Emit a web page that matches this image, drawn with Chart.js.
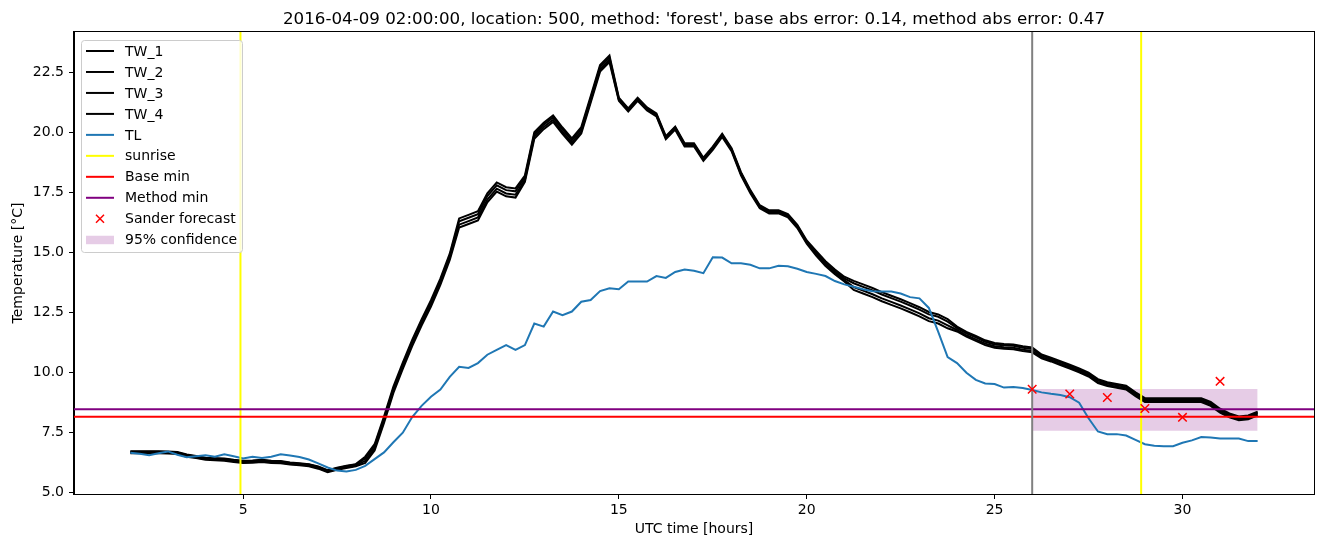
<!DOCTYPE html>
<html>
<head>
<meta charset="utf-8">
<script src="https://cdn.jsdelivr.net/npm/chart.js@4.4.0/dist/chart.umd.min.js"></script>
<style>
  html, body { margin: 0; padding: 0; background: #fff; }
  canvas { display: block; }
</style>
</head>
<body>
<canvas id="chart" width="1324" height="547"></canvas>
<script>
const TITLE = "2016-04-09 02:00:00, location: 500, method: 'forest', base abs error: 0.14, method abs error: 0.47";
const FONT = '"DejaVu Sans", sans-serif';

// Time grid: every 15 minutes from 2 h to 32 h
const hours = [];
for (let h = 2; h <= 32.0001; h += 0.25) hours.push(Math.round(h * 100) / 100);

// Wall temperatures (4 sensors)
const tw1 = [6.73,6.73,6.73,6.73,6.72,6.70,6.59,6.53,6.46,6.44,6.42,6.37,6.33,6.34,6.37,6.33,6.32,6.26,6.23,6.19,6.09,5.94,6.04,6.12,6.19,
  6.50,7.02,8.17,9.42,10.42,11.37,12.22,13.02,13.92,14.96,
  16.43,16.58,16.73,17.48,17.93,17.73,17.68,
  18.22,20.02,20.42,20.72,20.22,19.77,20.24,21.52,22.82,23.22,
  21.46,21.02,21.46,21.06,20.81,19.86,20.26,19.56,19.56,18.96,19.42,19.96,19.36,18.36,17.61,16.98,16.77,16.77,16.61,16.16,15.51,
  15.08,14.65,14.30,14.00,
  13.83,13.68,13.53,13.36,13.21,13.06,12.90,12.73,12.53,12.43,12.23,
  11.92,11.70,11.53,11.35,11.24,11.20,11.18,11.10,11.05,
  10.76,10.63,10.48,10.33,10.18,10.00,9.73,9.60,9.53,9.46,9.18,8.94,8.94,8.94,8.94,8.94,8.94,8.94,8.78,8.50,8.30,8.18,8.22,8.38];
const tw2 = [6.71,6.71,6.71,6.71,6.70,6.68,6.57,6.51,6.44,6.42,6.40,6.35,6.31,6.32,6.35,6.31,6.30,6.24,6.21,6.17,6.07,5.92,6.02,6.10,6.17,
  6.42,6.94,8.09,9.34,10.34,11.29,12.14,12.94,13.84,14.88,
  16.31,16.46,16.61,17.36,17.81,17.61,17.56,
  18.14,19.94,20.34,20.64,20.14,19.69,20.16,21.44,22.74,23.14,
  21.42,20.98,21.42,21.02,20.77,19.82,20.22,19.52,19.52,18.92,19.38,19.92,19.32,18.32,17.57,16.94,16.73,16.73,16.57,16.12,15.47,
  15.01,14.58,14.23,13.93,
  13.73,13.58,13.43,13.26,13.11,12.96,12.80,12.63,12.43,12.33,12.13,
  11.86,11.64,11.47,11.29,11.18,11.14,11.12,11.04,10.99,
  10.71,10.58,10.43,10.28,10.13,9.95,9.68,9.55,9.48,9.41,9.13,8.89,8.89,8.89,8.89,8.89,8.89,8.89,8.73,8.45,8.25,8.13,8.17,8.33];
const tw3 = [6.67,6.67,6.67,6.67,6.66,6.64,6.53,6.47,6.40,6.38,6.36,6.31,6.27,6.28,6.31,6.27,6.26,6.20,6.17,6.13,6.03,5.88,5.98,6.06,6.13,
  6.33,6.85,8.00,9.25,10.25,11.20,12.05,12.85,13.75,14.79,
  16.17,16.32,16.47,17.22,17.67,17.47,17.42,
  18.04,19.84,20.24,20.54,20.04,19.59,20.06,21.34,22.64,23.04,
  21.38,20.94,21.38,20.98,20.73,19.78,20.18,19.48,19.48,18.88,19.34,19.88,19.28,18.28,17.53,16.90,16.69,16.69,16.53,16.08,15.43,
  14.94,14.51,14.16,13.86,
  13.57,13.42,13.27,13.10,12.95,12.80,12.64,12.47,12.27,12.17,11.97,
  11.78,11.56,11.39,11.21,11.10,11.06,11.04,10.96,10.91,
  10.65,10.52,10.37,10.22,10.07,9.89,9.62,9.49,9.42,9.35,9.07,8.83,8.83,8.83,8.83,8.83,8.83,8.83,8.67,8.39,8.19,8.07,8.11,8.27];
const tw4 = [6.64,6.64,6.64,6.64,6.63,6.61,6.50,6.44,6.37,6.35,6.33,6.28,6.24,6.25,6.28,6.24,6.23,6.17,6.14,6.10,6.00,5.85,5.95,6.03,6.10,
  6.24,6.76,7.91,9.16,10.16,11.11,11.96,12.76,13.66,14.70,
  16.05,16.20,16.35,17.10,17.55,17.35,17.30,
  17.95,19.75,20.15,20.45,19.95,19.50,19.97,21.25,22.55,22.95,
  21.33,20.89,21.33,20.93,20.68,19.73,20.13,19.43,19.43,18.83,19.29,19.83,19.23,18.23,17.48,16.85,16.64,16.64,16.48,16.03,15.38,
  14.88,14.45,14.10,13.80,
  13.45,13.30,13.15,12.98,12.83,12.68,12.52,12.35,12.15,12.05,11.85,
  11.72,11.50,11.33,11.15,11.04,11.00,10.98,10.90,10.85,
  10.60,10.47,10.32,10.17,10.02,9.84,9.57,9.44,9.37,9.30,9.02,8.78,8.78,8.78,8.78,8.78,8.78,8.78,8.62,8.34,8.14,8.02,8.06,8.22];

// Air temperature
const tl = [6.66,6.62,6.56,6.64,6.72,6.58,6.48,6.52,6.56,6.50,6.60,6.52,6.43,6.50,6.45,6.50,6.60,6.55,6.49,6.38,6.22,6.05,5.92,5.88,
  5.95,6.12,6.40,6.68,7.10,7.50,8.15,8.62,9.00,9.30,9.83,10.25,10.20,10.40,10.75,10.95,11.15,10.95,11.15,12.05,11.92,12.55,12.40,12.55,
  12.96,13.03,13.40,13.52,13.48,13.80,13.80,13.80,14.03,13.95,14.20,14.30,14.25,14.15,14.81,14.80,14.56,14.56,14.50,14.35,14.35,14.46,14.44,14.33,
  14.20,14.12,14.03,13.82,13.68,13.58,13.48,13.40,13.38,13.38,13.30,13.15,13.10,12.70,11.70,10.65,10.40,10.00,9.70,9.55,9.53,9.38,9.40,9.36,
  9.28,9.18,9.12,9.07,8.98,8.75,8.10,7.55,7.44,7.44,7.38,7.20,7.02,6.96,6.94,6.94,7.08,7.18,7.32,7.30,7.26,7.26,7.26,7.15,7.15];

const sunrise = [4.93, 28.9];
const nowHour = 26;
const baseMin = 8.16;
const methodMin = 8.48;
const forecastHours = [26, 27, 28, 29, 30, 31];
const forecastTemps = [9.31, 9.11, 8.97, 8.51, 8.14, 9.64];
const confHours = [26, 32];
const confLow = 7.58;
const confHigh = 9.32;

const xTicks = [5, 10, 15, 20, 25, 30];
const yTicks = [5.0, 7.5, 10.0, 12.5, 15.0, 17.5, 20.0, 22.5];
const X_MIN = 0.5, X_MAX = 33.5, Y_MIN = 4.945, Y_MAX = 24.2;

function line(label, xs, ys, color, order) {
    return {
        label: label,
        data: xs.map((x, i) => ({ x: x, y: ys[i] })),
        borderColor: color,
        borderWidth: 2,
        pointRadius: 0,
        tension: 0,
        fill: false,
        order: order
    };
}

const datasets = [
    // 0, 1: confidence band
    Object.assign(line('conf_low', confHours, confHours.map(() => confLow), 'rgba(0,0,0,0)', 30), { borderWidth: 0 }),
    Object.assign(line('95% confidence', confHours, confHours.map(() => confHigh), 'rgba(0,0,0,0)', 29),
        { borderWidth: 0, fill: 0, backgroundColor: 'rgba(128,0,128,0.2)' }),
    line('TW_1', hours, tw1, '#000000', 28),
    line('TW_2', hours, tw2, '#000000', 27),
    line('TW_3', hours, tw3, '#000000', 26),
    line('TW_4', hours, tw4, '#000000', 25),
    line('TL', hours, tl, '#1f77b4', 24),
    line('sunrise', [sunrise[0], sunrise[0]], [Y_MIN, Y_MAX], '#ffff00', 23),
    line('sunrise2', [sunrise[1], sunrise[1]], [Y_MIN, Y_MAX], '#ffff00', 22),
    line('Base min', [X_MIN, X_MAX], [baseMin, baseMin], '#ff0000', 21),
    line('Method min', [X_MIN, X_MAX], [methodMin, methodMin], '#800080', 20),
    line('now', [nowHour, nowHour], [Y_MIN, Y_MAX], '#808080', 19),
    Object.assign(line('Sander forecast', forecastHours, forecastTemps, '#ff0000', 18), {
        showLine: false, pointRadius: 6, pointStyle: 'crossRot', pointBorderWidth: 1.5,
        pointBorderColor: '#ff0000', pointBackgroundColor: '#ff0000'
    })
];

// Legend entries drawn in a matplotlib-like box
const legendItems = [
    { label: 'TW_1', kind: 'line', color: '#000000' },
    { label: 'TW_2', kind: 'line', color: '#000000' },
    { label: 'TW_3', kind: 'line', color: '#000000' },
    { label: 'TW_4', kind: 'line', color: '#000000' },
    { label: 'TL', kind: 'line', color: '#1f77b4' },
    { label: 'sunrise', kind: 'line', color: '#ffff00' },
    { label: 'Base min', kind: 'line', color: '#ff0000' },
    { label: 'Method min', kind: 'line', color: '#800080' },
    { label: 'Sander forecast', kind: 'marker', color: '#ff0000' },
    { label: '95% confidence', kind: 'patch', color: 'rgba(128,0,128,0.2)' }
];

const framePlugin = {
    id: 'frame',
    afterDatasetsDraw(chart) {
        const ctx = chart.ctx;
        const a = chart.chartArea;
        ctx.save();
        // legend box
        const bx = 81.5, by = 40.5, bw = 161, bh = 212;
        ctx.beginPath();
        ctx.roundRect(bx, by, bw, bh, 3);
        ctx.fillStyle = 'rgba(255,255,255,0.8)';
        ctx.fill();
        ctx.strokeStyle = '#cccccc';
        ctx.lineWidth = 1;
        ctx.stroke();
        ctx.font = '14px ' + FONT;
        ctx.textBaseline = 'middle';
        ctx.textAlign = 'left';
        legendItems.forEach((it, i) => {
            const y = 51 + i * 20.97;
            if (it.kind === 'line') {
                ctx.strokeStyle = it.color;
                ctx.lineWidth = 2;
                ctx.beginPath();
                ctx.moveTo(86, y);
                ctx.lineTo(114, y);
                ctx.stroke();
            } else if (it.kind === 'marker') {
                ctx.strokeStyle = it.color;
                ctx.lineWidth = 1.5;
                ctx.beginPath();
                ctx.moveTo(96, y - 4); ctx.lineTo(104, y + 4);
                ctx.moveTo(96, y + 4); ctx.lineTo(104, y - 4);
                ctx.stroke();
            } else {
                ctx.fillStyle = it.color;
                ctx.fillRect(86, y - 4, 28, 8.5);
            }
            ctx.fillStyle = '#000';
            ctx.fillText(it.label, 125, y + 1);
        });
        ctx.restore();
    },
    afterDraw(chart) {
        const ctx = chart.ctx;
        const a = chart.chartArea;
        ctx.save();
        ctx.strokeStyle = '#000';
        ctx.lineWidth = 1;
        ctx.strokeRect(Math.round(a.left) - 0.5, Math.round(a.top) - 0.5,
            Math.round(a.right - a.left) + 1, Math.round(a.bottom - a.top) + 1);
        ctx.fillStyle = '#000';
        ctx.font = '16.7px ' + FONT;
        ctx.textAlign = 'center';
        ctx.textBaseline = 'alphabetic';
        ctx.fillText(TITLE, (a.left + a.right) / 2, 24);
        ctx.restore();
    }
};

new Chart(document.getElementById('chart'), {
    type: 'line',
    data: { datasets: datasets },
    plugins: [framePlugin],
    options: {
        responsive: false,
        devicePixelRatio: 1,
        animation: false,
        events: [],
        layout: { padding: { left: 0, right: 10, top: 32, bottom: 0 } },
        plugins: {
            legend: { display: false },
            tooltip: { enabled: false },
            title: { display: false }
        },
        scales: {
            x: {
                type: 'linear',
                min: X_MIN,
                max: X_MAX,
                afterBuildTicks: s => { s.ticks = xTicks.map(v => ({ value: v })); },
                afterFit: s => { s.height = 53; },
                grid: { drawOnChartArea: false, drawTicks: true, tickLength: 5, tickColor: '#000', tickWidth: 1 },
                border: { display: true, color: '#000', width: 1 },
                ticks: {
                    color: '#000', padding: 3, maxRotation: 0, autoSkip: false,
                    font: { family: FONT, size: 14 },
                    callback: v => String(v)
                },
                title: {
                    display: true, text: 'UTC time [hours]', color: '#000',
                    font: { family: FONT, size: 14 }, padding: { top: 0, bottom: 9 }
                }
            },
            y: {
                type: 'linear',
                min: Y_MIN,
                max: Y_MAX,
                afterBuildTicks: s => { s.ticks = yTicks.map(v => ({ value: v })); },
                afterFit: s => { s.width = 74; },
                grid: { drawOnChartArea: false, drawTicks: true, tickLength: 5, tickColor: '#000', tickWidth: 1 },
                border: { display: true, color: '#000', width: 1 },
                ticks: {
                    color: '#000', padding: 5, autoSkip: false,
                    font: { family: FONT, size: 14 },
                    callback: v => v.toFixed(1)
                },
                title: {
                    display: true, text: 'Temperature [°C]', color: '#000',
                    font: { family: FONT, size: 14 }, padding: { top: 10, bottom: 0 }
                }
            }
        }
    }
});
</script>
</body>
</html>
